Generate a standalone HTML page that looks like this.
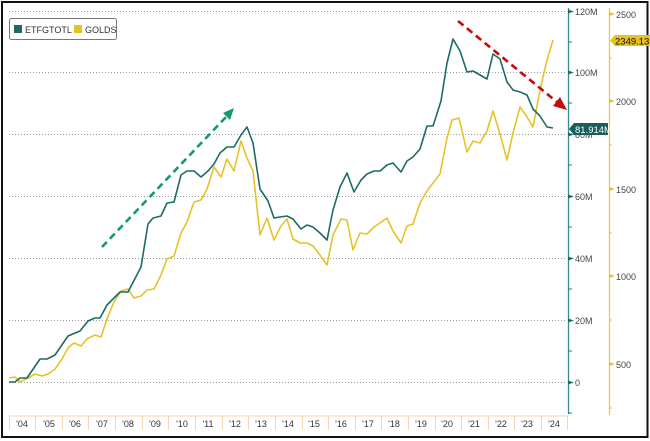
<!DOCTYPE html>
<html><head><meta charset="utf-8"><style>
html,body{margin:0;padding:0;background:#fff;}
svg{display:block;font-family:"Liberation Sans",sans-serif;}
</style></head><body>
<svg width="650" height="441" viewBox="0 0 650 441" xmlns="http://www.w3.org/2000/svg">
<rect x="0" y="0" width="650" height="441" fill="#fff"/>
<rect x="2" y="2" width="645.5" height="435" fill="none" stroke="#111" stroke-width="2"/>
<!-- gridlines -->
<g stroke="#9a9a9a" stroke-width="1" stroke-dasharray="1,2">
<line x1="9" y1="11.5" x2="566" y2="11.5"/>
<line x1="9" y1="72.5" x2="566" y2="72.5"/>
<line x1="9" y1="134.5" x2="566" y2="134.5"/>
<line x1="9" y1="196.5" x2="566" y2="196.5"/>
<line x1="9" y1="258.5" x2="566" y2="258.5"/>
<line x1="9" y1="320.5" x2="566" y2="320.5"/>
<line x1="9" y1="382.5" x2="566" y2="382.5"/>
</g>
<!-- x axis band -->
<line x1="9" y1="416" x2="568" y2="416" stroke="#f6d6ae" stroke-width="1"/>
<g stroke="#f6d6ae" stroke-width="1">
<line x1="9.5" y1="416" x2="9.5" y2="430"/><line x1="35.5" y1="416" x2="35.5" y2="430"/><line x1="62.5" y1="416" x2="62.5" y2="430"/><line x1="88.5" y1="416" x2="88.5" y2="430"/><line x1="115.5" y1="416" x2="115.5" y2="430"/><line x1="142.5" y1="416" x2="142.5" y2="430"/><line x1="168.5" y1="416" x2="168.5" y2="430"/><line x1="195.5" y1="416" x2="195.5" y2="430"/><line x1="222.5" y1="416" x2="222.5" y2="430"/><line x1="248.5" y1="416" x2="248.5" y2="430"/><line x1="275.5" y1="416" x2="275.5" y2="430"/><line x1="302.5" y1="416" x2="302.5" y2="430"/><line x1="328.5" y1="416" x2="328.5" y2="430"/><line x1="355.5" y1="416" x2="355.5" y2="430"/><line x1="381.5" y1="416" x2="381.5" y2="430"/><line x1="408.5" y1="416" x2="408.5" y2="430"/><line x1="435.5" y1="416" x2="435.5" y2="430"/><line x1="461.5" y1="416" x2="461.5" y2="430"/><line x1="488.5" y1="416" x2="488.5" y2="430"/><line x1="514.5" y1="416" x2="514.5" y2="430"/><line x1="541.5" y1="416" x2="541.5" y2="430"/><line x1="567.5" y1="416" x2="567.5" y2="430"/>
</g>
<g font-size="9" fill="#333" text-anchor="middle">
<text x="22" y="427">'04</text><text x="49" y="427">'05</text><text x="75" y="427">'06</text><text x="102" y="427">'07</text><text x="128" y="427">'08</text><text x="155" y="427">'09</text><text x="182" y="427">'10</text><text x="208" y="427">'11</text><text x="235" y="427">'12</text><text x="261" y="427">'13</text><text x="288" y="427">'14</text><text x="314" y="427">'15</text><text x="341" y="427">'16</text><text x="368" y="427">'17</text><text x="394" y="427">'18</text><text x="421" y="427">'19</text><text x="447" y="427">'20</text><text x="474" y="427">'21</text><text x="501" y="427">'22</text><text x="527" y="427">'23</text><text x="554" y="427">'24</text>
</g>
<!-- teal axis -->
<line x1="568.5" y1="8" x2="568.5" y2="414" stroke="#3a8c8c" stroke-width="1.3"/>
<g stroke="#2f7f7f" stroke-width="1">
<line x1="568" y1="42" x2="572" y2="42"/><line x1="568" y1="103" x2="572" y2="103"/><line x1="568" y1="165" x2="572" y2="165"/><line x1="568" y1="227" x2="572" y2="227"/><line x1="568" y1="289" x2="572" y2="289"/><line x1="568" y1="351" x2="572" y2="351"/><line x1="568" y1="413" x2="572" y2="413"/>
</g>
<g fill="#1e6b66">
<polygon points="568,9.5 574,11.5 568,13.5"/><polygon points="568,70.5 574,72.5 568,74.5"/><polygon points="568,132.5 574,134.5 568,136.5"/><polygon points="568,194.5 574,196.5 568,198.5"/><polygon points="568,256.5 574,258.5 568,260.5"/><polygon points="568,318.5 574,320.5 568,322.5"/><polygon points="568,380.5 574,382.5 568,384.5"/>
</g>
<g font-size="9" fill="#444">
<text x="575" y="15">120M</text><text x="575" y="76">100M</text><text x="575" y="138">80M</text><text x="575" y="200">60M</text><text x="575" y="262">40M</text><text x="575" y="324">20M</text><text x="575" y="386">0</text>
</g>
<!-- gold axis -->
<line x1="609.5" y1="8" x2="609.5" y2="415" stroke="#eacb45" stroke-width="1.3"/>
<g stroke="#e8c43a" stroke-width="1">
<line x1="609" y1="58" x2="612" y2="58"/><line x1="609" y1="145" x2="612" y2="145"/><line x1="609" y1="233" x2="612" y2="233"/><line x1="609" y1="320" x2="612" y2="320"/><line x1="609" y1="408" x2="612" y2="408"/>
</g>
<g fill="#e5bf1f">
<polygon points="609,12 615,14 609,16"/><polygon points="609,99 615,101 609,103"/><polygon points="609,187 615,189 609,191"/><polygon points="609,274 615,276 609,278"/><polygon points="609,362 615,364 609,366"/>
</g>
<g font-size="9" fill="#444">
<text x="616" y="18">2500</text><text x="616" y="105">2000</text><text x="616" y="193">1500</text><text x="616" y="280">1000</text><text x="616" y="368">500</text>
</g>
<!-- series -->
<polyline fill="none" stroke="#e6c229" stroke-width="1.6" stroke-linejoin="round" points="9,378 15,377 20,382 28,378 35,374 42,376 48,374 55,369 62,359 68,348 74,343 81,346 87,339 95,335 101,337 107,319 114,302 121,291 128,289 134,298 141,296 147,290 154,289 161,275 167,259 174,256 181,233 187,222 194,202 201,200 207,189 214,167 221,177 227,159 234,171 241,141 247,158 253,171 260,235 267,218 274,240 281,226 287,219 293,239 300,243 307,243 313,246 320,255 327,265 333,235 341,219 347,220 353,250 360,233 367,234 374,227 380,223 387,218 393,231 401,243 407,226 413,224 420,203 427,191 433,183 440,174 447,138 452,120 459,118 467,152 473,141 480,143 487,131 493,111 500,134 507,160 513,133 520,107 527,117 533,127 540,90 547,60 553,40"/>
<polyline fill="none" stroke="#1d6b66" stroke-width="1.6" stroke-linejoin="round" points="9,382 15,382 20,378 27,378 40,359 47,359 55,355 68,336 80,331 88,321 95,318 100,318 107,305 120,292 128,292 141,267 148,224 153,218 161,216 167,203 174,202 181,175 187,171 194,171 201,177 208,171 214,164 220,153 227,147 234,147 241,135 247,127 253,143 260,189 268,201 274,218 280,217 287,216 293,219 301,229 307,225 313,227 320,233 327,240 333,210 340,187 347,173 354,192 361,180 367,174 374,171 380,171 387,165 393,163 401,172 407,161 413,157 420,149 427,126 433,126 441,101 447,63 453,39 460,51 467,72 473,71 480,75 487,79 493,54 500,59 507,82 513,90 520,92 527,95 533,109 540,116 547,127 553,128"/>
<!-- arrows -->
<line x1="102" y1="247" x2="227" y2="116" stroke="#149a6c" stroke-width="2.6" stroke-dasharray="7,4.5"/>
<polygon points="234,108 223,113 230,120" fill="#149a6c"/>
<line x1="458" y1="21" x2="557" y2="102" stroke="#c40c0c" stroke-width="2.6" stroke-dasharray="7,4.5"/>
<polygon points="567,110 553,106 560,97" fill="#c40c0c"/>
<!-- value labels -->
<polygon points="569,129 574,123 608,123 608,135 574,135" fill="#1a5e5b"/>
<text x="575" y="133" font-size="9.5" fill="#fff">81.914M</text>
<polygon points="610,40.5 615,35 650,35 650,46 615,46" fill="#e6c21f"/>
<text x="615" y="44.5" font-size="9.5" fill="#111">2349.13</text>
<!-- legend -->
<rect x="9.5" y="18.5" width="107" height="21" rx="2" fill="#fff" stroke="#777" stroke-width="1"/>
<rect x="14" y="25" width="8" height="8" fill="#1d6b66"/>
<text x="25" y="33" font-size="9" fill="#333">ETFGTOTL</text>
<rect x="74" y="25" width="8" height="8" fill="#e6c21f"/>
<text x="85" y="33" font-size="9" fill="#333">GOLDS</text>
</svg>
</body></html>
